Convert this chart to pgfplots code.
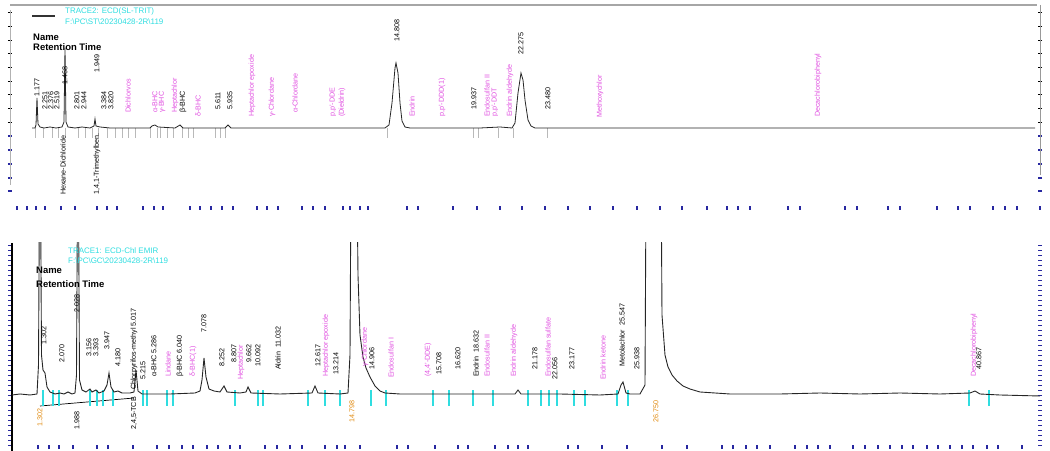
\documentclass[border=0pt]{standalone}
\usepackage{pgfplots}
\pgfplotsset{compat=1.18}
\usepackage{fontspec}
\setmainfont{Liberation Sans}
\definecolor{mag}{HTML}{E050E0}
\definecolor{cyn}{HTML}{30DDE0}
\definecolor{navy}{HTML}{2828A0}
\definecolor{org}{HTML}{E08A10}
\newcommand{\lbl}{\fontsize{7.2}{8}\selectfont}
% rotated peak label: x (px), y (signal), colour, text
\newcommand{\lab}[4]{\node[rotate=90,anchor=west,inner sep=0pt,text=#3,font=\lbl] at (axis cs:#1,#2) {#4};}
\pgfplotsset{chrom/.style={
    scale only axis, width=1030bp, xmin=10, xmax=1040,
    axis line style={draw=none},
    xticklabels={}, yticklabels={},
    xtick pos=left, ytick pos=both, tick align=center,
    major tick length=4bp, clip mode=individual,
    x tick style={navy, line width=1.8pt},
    y tick style={black, line width=0.6pt},
}}
\begin{document}
\begin{tikzpicture}
\useasboundingbox (0,0) rectangle (1050bp,451bp);

% ---------------- top trace ----------------
\begin{axis}[chrom, at={(10bp,243bp)}, anchor=south west,
    height=203bp, ymin=-80, ymax=123,
    ytick={6,19.7,33.4,47,60.7,74.4,88,101.7,115.4},
    extra y ticks={-8,-22,-36,-50,-63},
    extra y tick labels={},
    extra y tick style={y tick style={navy, line width=1.6pt}},
    xtick={17,27,36,45,61,75,97,107,117,143,154,163,190,200,211,222,233,257,267,278,302,313,325,343,
           350,360,368,407,418,453,477,500,522,545,568,590,613,637,660,682,
           707,727,738,750,788,800,845,857,888,900,937,958,970,993,1005,1017,1040},
]
\draw[gray!70, line width=2.5pt] (axis cs:10,123) -- (axis cs:1037,123);
\draw[gray!80, line width=1pt] (axis cs:1040,123) -- (axis cs:1040,-47);
\draw[gray!60, line width=0.5pt] (axis cs:10,118) -- (axis cs:10,-57);
\draw[black!80, line width=1.5pt] (axis cs:32,112) -- (axis cs:55,112);

\addplot[gray!55, only marks, mark=|, mark size=5, mark options={line width=0.8pt}] coordinates {
 (35,-5) (43,-5) (52,-5) (58,-5) (65,-5) (78,-5) (85,-5) (92,-5) (98,-5) (107,-5) (115,-5)
 (122,-5) (128,-5) (135,-5) (150,-5) (157,-5) (160,-5) (167,-5) (173,-5) (182,-5) (188,-5)
 (193,-5) (215,-5) (220,-5) (225,-5) (387,-5) (473,-5) (478,-5) (498,-5) (513,-5) (547,-5)};

\addplot[black!85, line width=0.8pt] coordinates {
 (32,0) (35,0) (36,3) (37,30) (38,4) (40,1) (44,0) (50,1) (56,0) (62,1) (64,6) (65,80) (66,6)
 (68,1) (75,0) (82,1) (90,0) (94,2) (95,9) (96,2) (100,1) (110,0) (150,0) (152,2) (155,3)
 (158,1) (175,0) (180,3) (183,0) (225,0) (228,3) (231,0) (300,0) (385,0) (389,3) (392,25)
 (395,60) (396,65) (398,55) (400,25) (402,7) (405,1) (410,0) (480,0) (500,1) (512,0) (515,5)
 (518,35) (521,55) (523,48) (525,28) (528,8) (531,2) (535,0) (1035,0)};

\node[anchor=west, text=cyn, font=\fontsize{8}{9}\selectfont, inner sep=0pt] at (axis cs:65,117) {TRACE2: ECD(SL-TRIT)};
\node[anchor=west, text=cyn, font=\fontsize{8}{9}\selectfont, inner sep=0pt] at (axis cs:65,106) {F:\textbackslash PC\textbackslash ST\textbackslash 20230428-2R\textbackslash 119};
\node[anchor=west, font=\fontsize{9.5}{10}\selectfont\bfseries, inner sep=0pt] at (axis cs:33,91) {Name};
\node[anchor=west, font=\fontsize{9.5}{10}\selectfont\bfseries, inner sep=0pt] at (axis cs:33,81) {Retention Time};

\lab{37}{31}{black}{1.177}
\lab{65}{43}{black}{1.468}
\lab{97}{55}{black}{1.949}
\lab{45}{18}{black}{2.251}
\lab{51}{18}{black}{2.376}
\lab{57}{18}{black}{2.519}
\lab{77}{18}{black}{2.801}
\lab{84}{18}{black}{2.944}
\lab{104}{18}{black}{3.384}
\lab{111}{18}{black}{3.820}
\lab{128}{15}{mag}{Dichlorvos}
\lab{155}{15}{mag}{α-BHC}
\lab{162}{15}{mag}{γ-BHC}
\lab{175}{15}{mag}{Heptachlor}
\lab{183}{15}{black}{β-BHC}
\lab{198}{11}{mag}{δ-BHC}
\lab{218}{18}{black}{5.611}
\lab{230}{18}{black}{5.935}
\lab{252}{11}{mag}{Heptachlor epoxide}
\lab{272}{11}{mag}{γ-Chlordane}
\lab{295}{15}{mag}{α-Chlordane}
\lab{333}{11}{mag}{p,p'-DDE}
\lab{342}{11}{mag}{(Dieldrin)}
\lab{397}{86}{black}{14.808}
\lab{412}{11}{mag}{Endrin}
\lab{442}{11}{mag}{p,p'-DDD(1)}
\lab{474}{18}{black}{19.937}
\lab{487}{11}{mag}{Endosulfan II}
\lab{495}{11}{mag}{p,p'-DDT}
\lab{510}{11}{mag}{Endrin aldehyde}
\lab{521}{73}{black}{22.275}
\lab{548}{18}{black}{23.480}
\lab{600}{10}{mag}{Methoxychlor}
\lab{818}{11}{mag}{Decachlorobiphenyl}
\lab{63}{-67}{black}{Hexane-Dichloride}
\lab{97}{-67}{black}{1,4,1-Trimethylben.}
\end{axis}

% ---------------- bottom trace ----------------
\begin{axis}[chrom, at={(10bp,4bp)}, anchor=south west,
    height=204bp, ymin=-52, ymax=152,
    ytick={-50,-45,...,150},
    y tick style={navy, line width=0.8pt},
    xtick={38,49,59,73,97,108,133,157,169,182,193,207,218,230,240,265,277,290,302,325,337,345,
           360,397,408,435,458,468,495,508,518,528,568,578,602,627,662,687,
           722,733,746,757,770,795,807,818,830,853,865,878,890,902,913,927,938,950,962,973,987,998,1022},
]
\draw[black, line width=1.2pt] (axis cs:12,152) -- (axis cs:12,-56);
\draw[black, line width=0.7pt] (axis cs:40,-11) -- (axis cs:134,-3);

\addplot[cyn, only marks, mark=|, mark size=8, mark options={cyn, line width=1.3pt}] coordinates {
 (43,-3) (53,-3) (59,-3) (90,-3) (97,-3) (103,-3) (113,-3) (143,-3) (147,-3) (167,-3) (173,-3)
 (235,-3) (258,-3) (263,-3) (308,-3) (325,-3) (340,-3) (371,-3) (386,-3) (433,-3) (449,-3)
 (473,-3) (493,-3) (528,-3) (541,-3) (549,-3) (557,-3) (574,-3) (585,-3) (617,-3) (628,-3)
 (969,-3) (989,-3)};

\addplot[black!85, line width=0.9pt] coordinates {
 (12,0) (20,1) (30,0) (37,1) (38.5,30) (40,300) (41.5,40) (43,25) (45,22) (47,8) (50,3) (55,1)
 (60,2) (64,1) (68,3) (72,1) (75,2) (76.5,20) (78,300) (79.5,15) (82,5) (86,3) (90,6) (92,3)
 (96,5) (99,2) (104,4) (107,10) (109,22) (111,8) (114,3) (118,4) (122,2) (130,2) (134,3)
 (136,25) (138,4) (142,1) (150,1) (170,1) (195,2) (200,4) (202,15) (204,37) (206,18) (209,6)
 (214,4) (220,3) (224,9) (227,3) (240,2) (246,3) (248,8) (251,2) (280,1) (312,2) (315,9)
 (318,2) (340,1) (348,2) (350,40) (352,400) (355,400) (358,120) (360,60) (363,38) (366,27)
 (370,18) (375,9) (380,4) (385,2) (400,1) (450,1) (500,1) (515,1) (518,5) (521,1) (560,1)
 (600,0) (618,1) (621,10) (623,13) (626,2) (630,1) (640,1) (645,10) (647,400) (660,400)
 (662,80) (665,40) (668,28) (672,20) (677,14) (683,9) (690,6) (700,3) (715,2) (730,1)
 (780,1) (820,2) (860,1) (900,2) (940,1) (970,2) (975,4) (980,1) (1000,0) (1040,-1)};

\node[anchor=west, text=cyn, font=\fontsize{8}{9}\selectfont, inner sep=0pt] at (axis cs:68,144) {TRACE1: ECD-Chl EMIR};
\node[anchor=west, text=cyn, font=\fontsize{8}{9}\selectfont, inner sep=0pt] at (axis cs:68,134) {F:\textbackslash PC\textbackslash GC\textbackslash 20230428-2R\textbackslash 119};
\node[anchor=west, font=\fontsize{9.5}{10}\selectfont\bfseries, inner sep=0pt] at (axis cs:36,125) {Name};
\node[anchor=west, font=\fontsize{9.5}{10}\selectfont\bfseries, inner sep=0pt] at (axis cs:36,111) {Retention Time};

\lab{44}{50}{black}{1.302}
\lab{62}{32}{black}{2.070}
\lab{77}{82}{black}{2.028}
\lab{89}{38}{black}{3.156}
\lab{96}{38}{black}{3.393}
\lab{107}{45}{black}{3.947}
\lab{118}{28}{black}{4.180}
\lab{134}{5}{black}{Chlorpyrifos-methyl 5.017}
\lab{143}{15}{black}{5.215}
\lab{154}{18}{black}{α-BHC 5.286}
\lab{168}{18}{mag}{Lindane}
\lab{180}{18}{black}{β-BHC 6.040}
\lab{193}{18}{mag}{δ-BHC(1)}
\lab{204}{62}{black}{7.078}
\lab{222}{28}{black}{8.252}
\lab{234}{32}{black}{8.807}
\lab{241}{15}{mag}{Heptachlor}
\lab{249}{32}{black}{9.662}
\lab{258}{28}{black}{10.092}
\lab{278}{25}{black}{Aldrin\ \ 11.032}
\lab{318}{28}{black}{12.617}
\lab{326}{18}{mag}{Heptachlor epoxide}
\lab{336}{20}{black}{13.214}
\lab{365}{28}{mag}{γ-Chlordane}
\lab{372}{25}{black}{14.906}
\lab{391}{17}{mag}{Endosulfan I}
\lab{428}{18}{mag}{(4,4'-DDE)}
\lab{439}{20}{black}{15.708}
\lab{458}{25}{black}{16.620}
\lab{476}{18}{black}{Endrin\ \ 18.632}
\lab{487}{18}{mag}{Endosulfan II}
\lab{514}{18}{mag}{Endrin aldehyde}
\lab{535}{25}{black}{21.178}
\lab{548}{18}{mag}{Endosulfan sulfate}
\lab{555}{15}{black}{22.056}
\lab{572}{25}{black}{23.177}
\lab{603}{15}{mag}{Endrin ketone}
\lab{622}{28}{black}{Metolachlor\ \ 25.547}
\lab{637}{25}{black}{25.938}
\lab{974}{18}{mag}{Decachlorobiphenyl}
\lab{979}{25}{black}{40.867}
\lab{40}{-32}{org}{1.302}
\lab{77}{-35}{black}{1.988}
\lab{134}{-35}{black}{2,4,5-TCB}
\lab{352}{-28}{org}{14.798}
\lab{656}{-28}{org}{26.750}
\end{axis}
\end{tikzpicture}
\end{document}
